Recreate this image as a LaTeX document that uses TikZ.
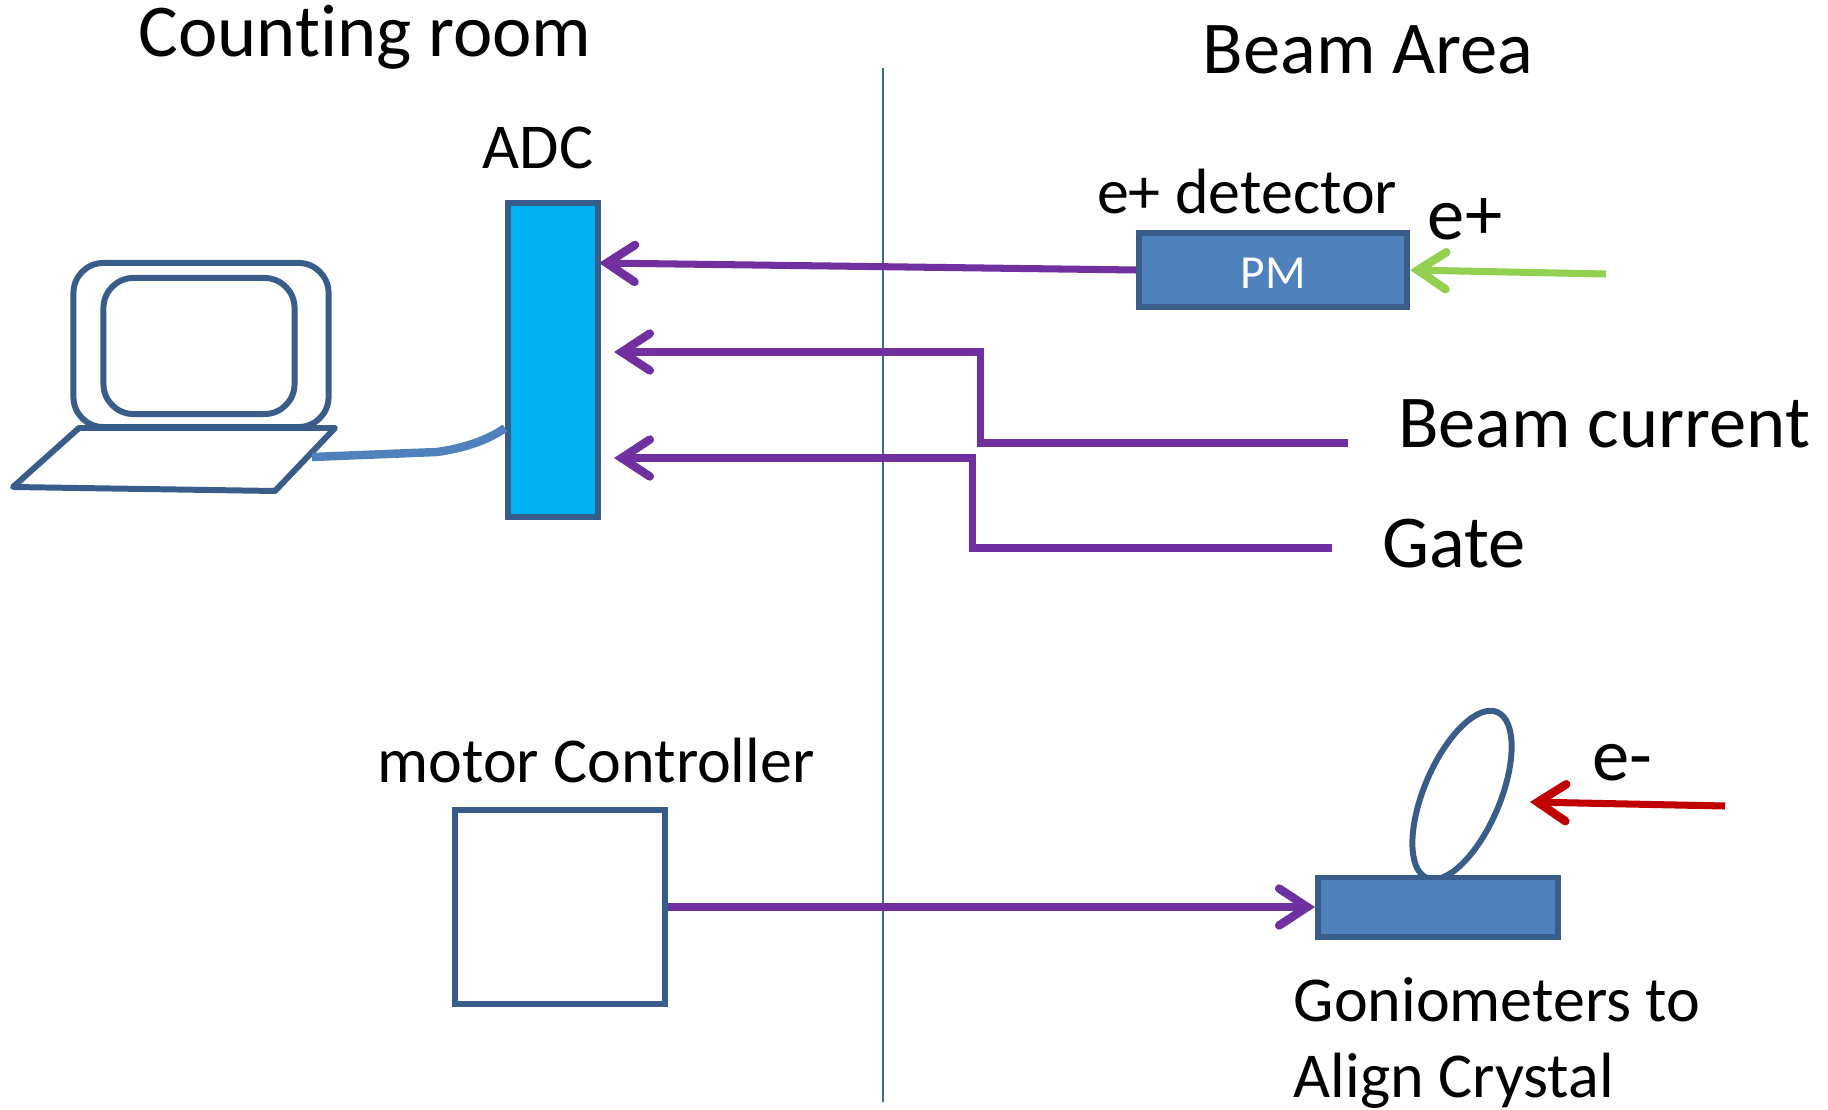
\documentclass[tikz,border=0pt]{standalone}
\usepackage{fontspec}
\setmainfont[Ligatures={NoCommon}]{Carlito}
\usetikzlibrary{positioning, shapes.geometric, arrows.meta}
\definecolor{boxline}{HTML}{385D8A}
\definecolor{boxfill}{HTML}{4F81BD}
\definecolor{adcfill}{HTML}{00B0F0}
\definecolor{sigline}{HTML}{7030A0}
\definecolor{posline}{HTML}{92D050}
\definecolor{eleline}{HTML}{C00000}
\tikzset{
  block/.style={draw=boxline, line width=1.7pt, inner sep=0pt},
  screen/.style={block, rounded corners=0.3cm},
  signal/.style={line width=2pt, -{Straight Barb[length=8pt,width=10.5pt,line cap=round,line width=2.4pt]}},
  label/.style={inner sep=0pt, font=\fontsize{18.2}{21.4}\selectfont},
  biglabel/.style={inner sep=0pt, font=\fontsize{21.2}{25}\selectfont}
}

\begin{document}
\begin{tikzpicture}[x=0.01cm, y=-0.01cm]
   \useasboundingbox (0,0) rectangle (1828,1110);

   % titles
   \node[biglabel] (counting) at (365,37) {Counting room};
   \node[biglabel] (beamarea) at (1368,50) {Beam Area};
   \draw[boxfill!80!black, line width=0.5pt] (883,68) coordinate (div_top) -- (883,1102) coordinate (div_bot);

   % laptop
   \node[screen, minimum width=2.55cm, minimum height=1.64cm] (screen_out) at (201,345) {};
   \node[screen, minimum width=1.91cm, minimum height=1.36cm] (screen_in) at (199,346) {};
   \draw[boxline, line width=1.7pt, line join=round] (79,428) coordinate (kb_a) -- (335,428) coordinate (kb_b)
      -- (275,491) coordinate (kb_c) -- (13,487) coordinate (kb_d) -- cycle;

   % ADC
   \node[block, fill=adcfill, minimum width=0.9cm, minimum height=3.14cm] (adc) at (553,360) {};
   \node[label] (adc_txt) at (538,148) {ADC};
   \coordinate (cable_a) at (312,457);
   \coordinate (cable_b) at (437,452);
   \draw[boxfill, line width=2.4pt] (cable_a) -- (cable_b) .. controls (465,448) and (488,440) .. (adc.west |- 0,428);

   % e+ detector
   \node[block, fill=boxfill, text=white, minimum width=2.68cm, minimum height=0.74cm,
         font=\fontsize{13.5}{16}\selectfont] (pm) at (1273,270) {\raisebox{-0.8pt}[\height][0pt]{PM}};
   \node[label] (det_txt) at (1247,192) {e+ detector};
   \node[biglabel] (pos_txt) at (1465,219) {e+};
   \coordinate (pos_start) at (1606,274);
   \coordinate (adc_in) at (599,263);
   \draw[signal, sigline] (pm.west) -- (adc_in);
   \draw[signal, posline] (pos_start) -- (pm.east);

   % beam current and gate
   \node[biglabel] (cur_txt) at (1604,424) {Beam current};
   \node[biglabel] (gate_txt) at (1454,544) {Gate};
   \coordinate (cur_start) at (1348,443);
   \coordinate (cur_a) at (980,443);
   \coordinate (cur_b) at (980,352);
   \coordinate (cur_end) at (614,352);
   \coordinate (gate_start) at (1332,548);
   \coordinate (gate_a) at (972,548);
   \coordinate (gate_b) at (972,458);
   \coordinate (gate_end) at (614,458);
   \draw[signal, sigline] (cur_start) -- (cur_a) -- (cur_b) -- (cur_end);
   \draw[signal, sigline] (gate_start) -- (gate_a) -- (gate_b) -- (gate_end);

   % motor and crystal
   \node[label] (motor_txt) at (596,761) {motor Controller};
   \node[block, minimum width=2.09cm, minimum height=1.93cm] (motor) at (560,907) {};
   \node[block, ellipse, rotate=-23, minimum width=0.76cm, minimum height=1.8cm] (crystal) at (1462,795) {};
   \node[block, fill=boxfill, minimum width=2.4cm, minimum height=0.59cm] (gonio) at (1438,907) {};
   \draw[signal, sigline] (motor.east) -- (gonio.west);
   \node[biglabel] (ele_txt) at (1622,763) {e-};
   \coordinate (ele_start) at (1725,806);
   \coordinate (ele_end) at (1530,802);
   \draw[signal, eleline] (ele_start) -- (ele_end);
   \node[label, align=left, anchor=north west] (gonio_txt) at (1293,977)
      {Goniometers to\\Align Crystal};
\end{tikzpicture}
\end{document}
